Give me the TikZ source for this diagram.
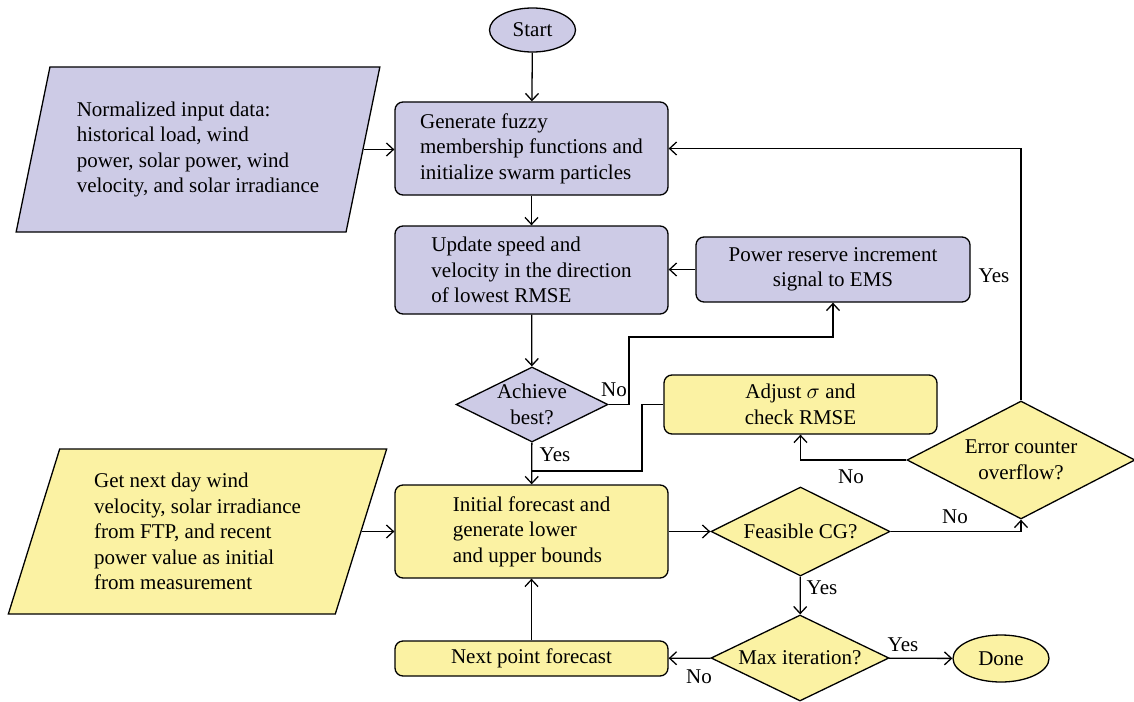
\documentclass[tikz,border=0pt]{standalone}
\usepackage{fontspec}
\setmainfont{Liberation Serif}
\usetikzlibrary{shapes.geometric,arrows.meta}
\definecolor{lilac}{RGB}{205,203,230}
\definecolor{butter}{RGB}{251,242,163}
\begin{document}
\begin{tikzpicture}[x=0.5pt,y=-0.5pt,
    arr/.style={-{Straight Barb[length=3.5pt,width=6.5pt]}},
    lbl/.style={inner sep=1pt}]
\tikzset{every node/.style={font=\fontsize{10.5}{12.75}\selectfont},
         every path/.style={line width=0.65pt},
         box/.style={draw, rounded corners=4pt, fill=#1, align=left, minimum width=136.5pt},
         decision/.style={diamond, draw, fill=#1, inner sep=0pt},
         terminal/.style={ellipse, draw, fill=#1, inner sep=0pt},
         iodata/.style={trapezium, draw, fill=#1, align=left, trapezium stretches=true}}
%\tikzset{every node/.style={draw, font=\small}}
\useasboundingbox (0,0) rectangle (1134,701);
\node[terminal=lilac, minimum width=43pt, minimum height=22pt] (start) at (532.5,30) {Start};
\node[box=lilac, minimum height=46.5pt] (gen) at (531.5,148.5)
    {Generate fuzzy\\membership functions and\\initialize swarm particles};
\node[iodata=lilac, trapezium left angle=75, trapezium right angle=105,
      minimum width=182pt, minimum height=82.5pt] (norm) at (198,149.5)
    {Normalized input data:\\historical load, wind\\power, solar power, wind\\velocity, and solar irradiance};
\node[box=lilac, minimum height=44pt] (upd) at (531.5,270)
    {Update speed and\\velocity in the direction\\of lowest RMSE};
\node[box=lilac, align=center, minimum width=137pt, minimum height=32.5pt] (pwr) at (833,269.5)
    {Power reserve increment\\signal to EMS};
\node[decision=lilac, minimum width=76pt, minimum height=37.5pt,
      label={[align=center]center:Achieve\\best?}] (achieve) at (532,404.5) {};
\node[box=butter, align=center, minimum height=29.5pt] (adj) at (800.5,404.5)
    {Adjust $\sigma$ and\\check RMSE};
\node[decision=butter, minimum width=114pt, minimum height=59pt,
      label={[align=center]center:Error counter\\overflow?}] (err) at (1021,460) {};
\node[iodata=butter, trapezium left angle=72.5, trapezium right angle=107.5,
      minimum width=189.5pt, minimum height=82.5pt] (nextday) at (197.5,531.5)
    {Get next day wind\\velocity, solar irradiance\\from FTP, and recent\\power value as initial\\from measurement};
\node[box=butter, minimum height=46.5pt] (init) at (531.5,531.5)
    {Initial forecast and\\generate lower\\and upper bounds};
\node[decision=butter, minimum width=89.5pt, minimum height=44.5pt,
      label={center:Feasible CG?}] (feas) at (800.5,531.5) {};
\node[decision=butter, minimum width=89pt, minimum height=43pt,
      label={center:Max iteration?}] (maxit) at (800,658) {};
\node[terminal=butter, minimum width=48pt, minimum height=23.5pt] (done) at (1001,658.5) {Done};
\node[box=butter, align=center, minimum height=17.5pt] (next) at (531.5,658.5) {Next point forecast};

\coordinate (nobend) at (629,337);
\coordinate (adjbend) at (642,471);

\draw[arr] (start) -- (gen);
\draw[arr] (norm.east) -- (norm.east -| gen.west);
\draw[arr] (gen) -- (upd);
\draw[arr] (pwr.west) -- (pwr.west -| upd.east);
\draw[arr] (upd) -- (achieve);
\draw[arr] (achieve.east) -| (nobend) -| (pwr.south);
\draw[arr] (achieve) -- (init);
\draw (adj.west) -| (adjbend) -- (adjbend -| achieve.south);
\draw[arr] (err.west) -| (adj.south);
\draw[arr] (err.north) |- (gen.east);
\draw[arr] (nextday.east) -- (nextday.east -| init.west);
\draw[arr] (init) -- (feas);
\draw[arr] (feas.east) -| (err.south);
\draw[arr] (feas) -- (maxit);
\draw[arr] (maxit) -- (done);
\draw[arr] (maxit) -- (next);
\draw[arr] (next) -- (init);

\node[lbl] (l1) at (994,276) {Yes};
\node[lbl] (l2) at (614,390) {No};
\node[lbl] (l3) at (555,455) {Yes};
\node[lbl] (l4) at (851,477) {No};
\node[lbl] (l5) at (955,517) {No};
\node[lbl] (l6) at (822,588) {Yes};
\node[lbl] (l7) at (903,645) {Yes};
\node[lbl] (l8) at (699,677) {No};
\end{tikzpicture}
\end{document}
